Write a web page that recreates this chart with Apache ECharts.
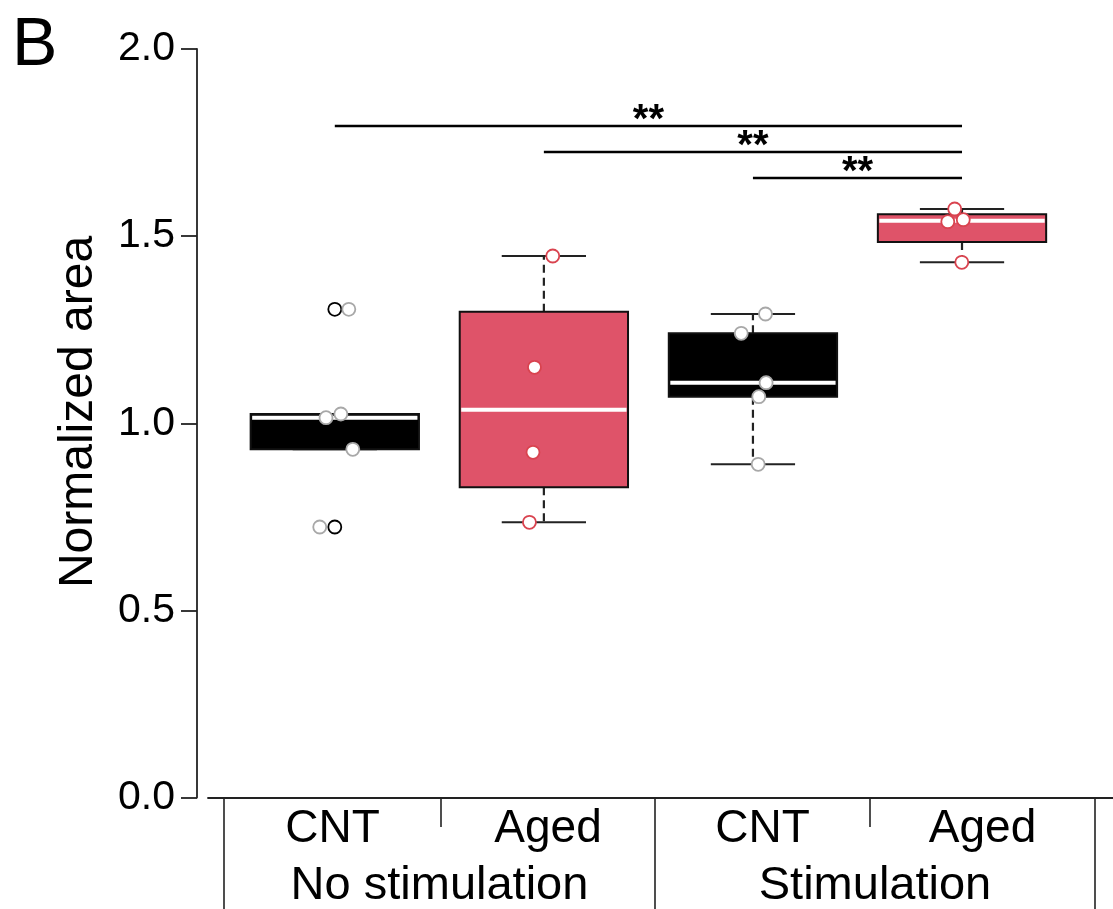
<!DOCTYPE html>
<html><head><meta charset="utf-8">
<script src="https://cdn.jsdelivr.net/npm/echarts@6/dist/echarts.min.js"></script>
<style>html,body{margin:0;padding:0;background:#fff}#c{width:1113px;height:909px}</style>
</head><body><div id="c"></div>
<script>
// ---------- data ----------
const categories = ['CNT', 'Aged', 'CNT', 'Aged'];
const groups = ['No stimulation', 'Stimulation'];
const yTicks = [0, 0.5, 1.0, 1.5, 2.0];
const cntValues1 = [0.7228, 0.9304, 1.0148, 1.0247, 1.3045];
const agedValues1 = [0.7353, 0.9224, 1.1495, 1.4469];
const cntValues2 = [0.8903, 1.0709, 1.1083, 1.2404, 1.2919];
const agedValues2 = [1.4301, 1.5385, 1.5439, 1.5725];
const cntJitter1 = [-0.072, 0.086, -0.042, 0.029, 0.067];
const agedJitter1 = [-0.069, -0.052, -0.045, 0.0425];
const cntJitter2 = [0.025, 0.028, 0.063, -0.056, 0.060];
const agedJitter2 = [-0.001, -0.068, 0.006, -0.035];
const sigFrom = [1, 2, 3];
const sigTo = [4, 4, 4];
const sigLevel = [1.7943, 1.7249, 1.6554];
const sigLabels = ['**', '**', '**'];

const values = [cntValues1, agedValues1, cntValues2, agedValues2];
const jitter = [cntJitter1, agedJitter1, cntJitter2, agedJitter2];

// ---------- styles ----------
const FONT = '"Liberation Sans", Arial, Helvetica, sans-serif';
const BOX_FILL = { CNT: '#000000', Aged: '#df5369' };
const PT_STROKE = { CNT: '#a8a8a8', Aged: '#d9434f' };
const LINE = '#222222';
const BOX_W = 0.805, CAP_W = 0.403;

// R-style boxplot statistics
function fivenum(a) {
  const x = [...a].sort((p, q) => p - q), n = x.length;
  const n4 = Math.floor((n + 3) / 2) / 2;
  const d = [1, n4, (n + 1) / 2, n + 1 - n4, n];
  return d.map(di => 0.5 * (x[Math.floor(di) - 1] + x[Math.ceil(di) - 1]));
}
function boxStats(a) {
  const s = fivenum(a), iqr = s[3] - s[1];
  const lo = s[1] - 1.5 * iqr, hi = s[3] + 1.5 * iqr;
  const out = a.filter(v => v < lo || v > hi);
  const inn = a.filter(v => v >= lo && v <= hi);
  if (out.length) { s[0] = Math.min(...inn); s[4] = Math.max(...inn); }
  return { stats: s, out };
}

const boxData = values.map((v, i) => { const s = boxStats(v).stats; return [i + 1, s[0], s[1], s[2], s[3], s[4]]; });
const outlierData = [];
values.forEach((v, i) => boxStats(v).out.forEach(o => outlierData.push([i + 1, o])));
const cntPts = [], agedPts = [];
values.forEach((v, i) => v.forEach((y, j) => (categories[i] === 'CNT' ? cntPts : agedPts).push([i + 1 + jitter[i][j], y])));
const sigData = sigFrom.map((f, k) => [f, sigTo[k], sigLevel[k]]);

const chart = echarts.init(document.getElementById('c'), null, { renderer: 'canvas' });

// table layout (pixels)
const SEP = [224, 441, 655, 870, 1095];
const SEP_LONG = [true, false, true, false, true];
const AXIS_Y = 797.5, BOTTOM = 909;
const graphic = [];
SEP.forEach((x, i) => graphic.push({ type: 'line', shape: { x1: x, y1: AXIS_Y, x2: x, y2: SEP_LONG[i] ? BOTTOM : 827 }, style: { stroke: LINE, lineWidth: 1.6 } }));
categories.forEach((c, i) => graphic.push({ type: 'text', x: (SEP[i] + SEP[i + 1]) / 2, y: 829.5, style: { text: c, fontSize: 46, fontFamily: FONT, fill: '#000', align: 'center', verticalAlign: 'middle' } }));
groups.forEach((g, i) => graphic.push({ type: 'text', x: (SEP[2 * i] + SEP[2 * i + 2]) / 2, y: 886.5, style: { text: g, fontSize: 47, fontFamily: FONT, fill: '#000', align: 'center', verticalAlign: 'middle' } }));
graphic.push({ type: 'text', x: 79, y: 412, rotation: Math.PI / 2, style: { text: 'Normalized area', fontSize: 48, fontFamily: FONT, fill: '#000', align: 'center', verticalAlign: 'middle' } });
graphic.push({ type: 'text', x: 12, y: 46, style: { text: 'B', fontSize: 68, fontFamily: FONT, fill: '#000', align: 'left', verticalAlign: 'middle' } });

const option = {
  animation: false,
  backgroundColor: '#fff',
  grid: { left: 208, right: 0, top: 49, bottom: BOTTOM - AXIS_Y, containLabel: false },
  xAxis: {
    type: 'value', min: 0.3935, max: 4.7222,
    axisLine: { show: true, onZero: false, lineStyle: { color: LINE, width: 1.8 } },
    axisTick: { show: false }, axisLabel: { show: false }, splitLine: { show: false }
  },
  yAxis: {
    type: 'value', min: yTicks[0], max: yTicks[yTicks.length - 1], interval: yTicks[1] - yTicks[0], offset: 11,
    axisLine: { show: true, lineStyle: { color: LINE, width: 1.8 } },
    axisTick: { show: true, length: 16, lineStyle: { color: LINE, width: 1.8 } },
    axisLabel: { fontSize: 41, fontFamily: FONT, color: '#000', margin: 22, formatter: v => v.toFixed(1) },
    splitLine: { show: false }
  },
  series: [
    {
      type: 'custom', data: boxData, clip: false, z: 2,
      renderItem(params, api) {
        const x = api.value(0);
        const yLo = api.coord([x, api.value(1)])[1], yQ1 = api.coord([x, api.value(2)])[1];
        const yMed = api.coord([x, api.value(3)])[1], yQ3 = api.coord([x, api.value(4)])[1];
        const yHi = api.coord([x, api.value(5)])[1];
        const cx = api.coord([x, 0])[0];
        const hw = api.size([BOX_W, 0])[0] / 2, cw = api.size([CAP_W, 0])[0] / 2;
        const fill = BOX_FILL[categories[params.dataIndex]];
        const dash = { stroke: LINE, lineWidth: 2.2, lineDash: [8, 5] };
        const solid = { stroke: LINE, lineWidth: 2 };
        return { type: 'group', children: [
          { type: 'line', shape: { x1: cx, y1: yQ3, x2: cx, y2: yHi }, style: dash },
          { type: 'line', shape: { x1: cx, y1: yQ1, x2: cx, y2: yLo }, style: dash },
          { type: 'line', shape: { x1: cx - cw, y1: yHi, x2: cx + cw, y2: yHi }, style: solid },
          { type: 'line', shape: { x1: cx - cw, y1: yLo, x2: cx + cw, y2: yLo }, style: solid },
          { type: 'rect', shape: { x: cx - hw, y: yQ3, width: 2 * hw, height: yQ1 - yQ3 }, style: { fill, stroke: '#111', lineWidth: 2 } },
          { type: 'line', shape: { x1: cx - hw + 1.5, y1: yMed, x2: cx + hw - 1.5, y2: yMed }, style: { stroke: '#fff', lineWidth: 4 } }
        ] };
      }
    },
    {
      type: 'scatter', data: outlierData, symbol: 'circle', symbolSize: 13, z: 3,
      itemStyle: { color: '#fff', borderColor: '#000', borderWidth: 1.8, opacity: 1 }
    },
    {
      type: 'scatter', data: cntPts, symbol: 'circle', symbolSize: 13, z: 4,
      itemStyle: { color: '#fff', borderColor: PT_STROKE.CNT, borderWidth: 1.8, opacity: 1 }
    },
    {
      type: 'scatter', data: agedPts, symbol: 'circle', symbolSize: 13, z: 4,
      itemStyle: { color: '#fff', borderColor: PT_STROKE.Aged, borderWidth: 1.8, opacity: 1 }
    },
    {
      type: 'custom', data: sigData, clip: false, z: 5,
      renderItem(params, api) {
        const p1 = api.coord([api.value(0), api.value(2)]);
        const p2 = api.coord([api.value(1), api.value(2)]);
        return { type: 'group', children: [
          { type: 'line', shape: { x1: p1[0], y1: p1[1], x2: p2[0], y2: p2[1] }, style: { stroke: '#000', lineWidth: 2.5 } },
          { type: 'text', x: (p1[0] + p2[0]) / 2, y: p1[1] - 5, style: { text: sigLabels[params.dataIndex], fontSize: 40, fontWeight: 'bold', fontFamily: FONT, fill: '#000', align: 'center', verticalAlign: 'middle' } }
        ] };
      }
    }
  ],
  graphic
};
chart.setOption(option);
</script>
</body></html>
